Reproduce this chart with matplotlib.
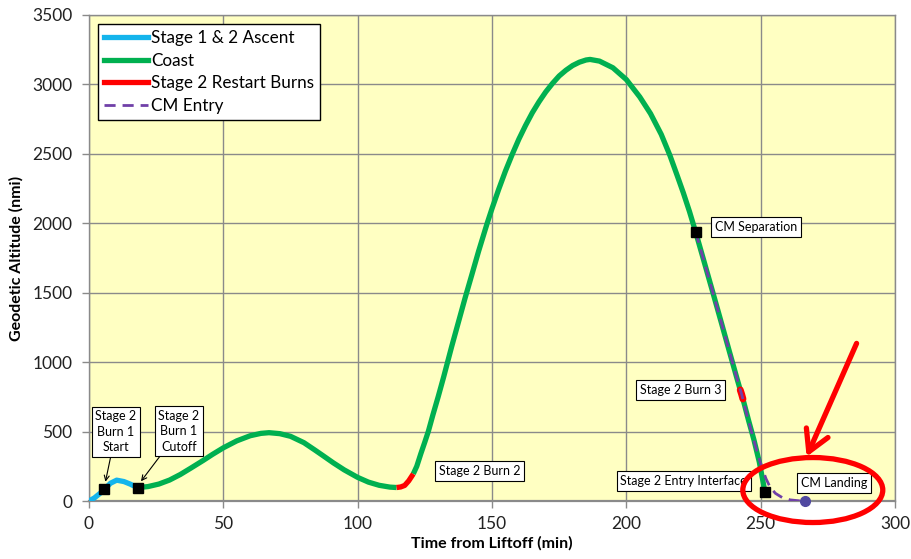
import matplotlib
matplotlib.use("Agg")
import matplotlib.pyplot as plt
from matplotlib.patches import Ellipse
from matplotlib.lines import Line2D

plt.rcParams['font.family'] = ['Lato', 'DejaVu Sans']

# ---- data (time from liftoff in min, geodetic altitude in nmi) ----
ascent_t = [0, 2, 4.1, 5.7, 8, 10.3, 13, 15.3, 18.1]
ascent_h = [0, 22, 55, 84, 128, 150, 140, 122, 96]

coast1_t = [18.1, 22, 26, 30, 34, 38, 42.5, 46, 50, 55, 60, 64, 67, 71, 75, 80,
            84, 87, 91, 95, 100, 104, 108, 112, 114.5]
coast1_h = [96, 104, 122, 151, 191, 238, 292, 336, 383, 433, 470, 487, 492, 485,
            466, 420, 368, 328, 274, 224, 170, 136, 113, 100, 97]

burn2_t = [114.5, 116, 117.5, 119, 120.7]
burn2_h = [97, 101, 112, 145, 195]

coast2_t = [120.7, 122, 123.5, 125, 126.3, 128, 130, 132, 135, 137.5, 140, 142.5,
            145, 148.2, 150, 152.5, 155, 157.5, 160, 162.5, 165, 167.5, 170,
            172.5, 175, 177.5, 180, 182.5, 185, 186.5, 190, 195, 200, 205, 209,
            213, 216.2, 219, 221.2, 223.5, 225.8, 229, 232.3, 235.5, 238.6, 241,
            242.4]
coast2_h = [195, 250, 340, 425, 501, 620, 753, 893, 1113, 1288, 1463, 1630,
            1798, 2000, 2106, 2245, 2376, 2495, 2606, 2705, 2796, 2875, 2946,
            3007, 3061, 3102, 3136, 3160, 3176, 3180, 3168, 3120, 3035, 2910,
            2790, 2640, 2490, 2340, 2220, 2085, 1937, 1720, 1495, 1275, 1060,
            895, 800]

burn3_t = [242.4, 242.9, 243.4]
burn3_h = [800, 770, 735]

coast3_t = [243.4, 245.5, 247.5, 249.5, 251.6]
coast3_h = [735, 580, 440, 280, 65]

entry_t = [225.8, 229, 232.3, 235.5, 238.6, 241, 242.9, 245, 247, 249,
           250.5, 252, 253.5, 255.5, 258, 261, 264, 266.5]
entry_h = [1937, 1720, 1495, 1275, 1060, 895, 770, 610, 470, 330,
           240, 160, 100, 55, 25, 8, 2, 0]

events_t = [5.7, 18.1, 225.8, 251.6]
events_h = [84, 96, 1937, 65]
landing_t = [266.5]
landing_h = [0]

x_ticks = [0, 50, 100, 150, 200, 250, 300]
y_ticks = [0, 500, 1000, 1500, 2000, 2500, 3000, 3500]

BLUE = '#14B4EC'
GREEN = '#00B050'
RED = '#FF0000'
PURPLE = '#7040A8'

fig = plt.figure(figsize=(9.12, 5.59), dpi=100)
ax = fig.add_axes([89/912, 1-501/559, (895-89)/912, (501-15)/559])
ax.set_facecolor('#FFFFC2')

lw = 3.8
ax.plot(ascent_t, ascent_h, color=BLUE, lw=lw, solid_capstyle='butt', zorder=3)
ax.plot(coast1_t, coast1_h, color=GREEN, lw=lw, solid_capstyle='butt', zorder=3)
ax.plot(burn2_t, burn2_h, color=RED, lw=lw, solid_capstyle='butt', zorder=4)
ax.plot(coast2_t, coast2_h, color=GREEN, lw=lw, solid_capstyle='butt', zorder=3)
ax.plot(coast3_t, coast3_h, color=GREEN, lw=lw, solid_capstyle='butt', zorder=3)
ax.plot(burn3_t, burn3_h, color=RED, lw=lw + 1.2, solid_capstyle='round', zorder=4)
ax.plot(entry_t, entry_h, color=PURPLE, lw=2.0, ls=(0, (4, 2.5)), zorder=5)
ax.plot(events_t, events_h, ls='none', marker='s', ms=7, color='black', zorder=6)
ax.plot(landing_t, landing_h, ls='none', marker='o', ms=7, color='#5048A0', zorder=6,
        clip_on=False)

ax.set_xlim(0, 300)
ax.set_ylim(0, 3500)
ax.set_xticks(x_ticks)
ax.set_yticks(y_ticks)
ax.grid(True, color='#8a8a8a', lw=1.0)
ax.set_axisbelow(True)
for s in ax.spines.values():
    s.set_color('#8a8a8a')
    s.set_linewidth(1.0)
ax.spines['bottom'].set_linewidth(1.6)
ax.tick_params(axis='both', colors='#8a8a8a', labelcolor='#222222', labelsize=12.5,
               length=5, width=1)
ax.tick_params(axis='y', pad=7)
ax.tick_params(axis='x', pad=6)

ax.set_xlabel('Time from Liftoff (min)', fontsize=11.5, fontweight='bold', labelpad=3)
ax.set_ylabel('Geodetic Altitude (nmi)', fontsize=11.5, fontweight='bold', labelpad=6)

handles = [Line2D([], [], color=BLUE, lw=lw),
           Line2D([], [], color=GREEN, lw=lw),
           Line2D([], [], color=RED, lw=lw),
           Line2D([], [], color=PURPLE, lw=2.0, ls=(0, (4, 2.5)))]
labels = ['Stage 1 & 2 Ascent', 'Coast', 'Stage 2 Restart Burns', 'CM Entry']
leg = ax.legend(handles, labels, loc='upper left', bbox_to_anchor=(0.011, 0.981),
                fontsize=12.3, frameon=True, fancybox=False, edgecolor='black',
                framealpha=1, borderpad=0.35, labelspacing=0.38, handlelength=2.6,
                handletextpad=0.15, borderaxespad=0)
leg.get_frame().set_linewidth(1.0)

box = dict(boxstyle='square,pad=0.3', fc='white', ec='black', lw=0.8)
fs = 9
ax.annotate('Stage 2\nBurn 1\nStart', xy=(5.7, 100), xytext=(10.0, 497),
            ha='center', va='center', fontsize=fs, bbox=box, linespacing=1.35,
            arrowprops=dict(arrowstyle='->', color='black', lw=0.8,
                            shrinkA=0, shrinkB=4), zorder=7)
ax.annotate('Stage 2\nBurn 1\nCutoff', xy=(18.1, 110), xytext=(33.5, 504),
            ha='center', va='center', fontsize=fs, bbox=box, linespacing=1.35,
            arrowprops=dict(arrowstyle='->', color='black', lw=0.8,
                            shrinkA=0, shrinkB=4), zorder=7)
ax.text(145.5, 216, 'Stage 2 Burn 2', ha='center', va='center', fontsize=fs, bbox=box, zorder=7)
ax.text(220.3, 799, 'Stage 2 Burn 3', ha='center', va='center', fontsize=fs, bbox=box, zorder=7)
ax.text(248.2, 1973, 'CM Separation', ha='center', va='center', fontsize=fs, bbox=box, zorder=7)
ax.text(221.4, 144, 'Stage 2 Entry Interface', ha='center', va='center', fontsize=fs,
        bbox=box, zorder=7)
ax.text(277.3, 130, 'CM Landing', ha='center', va='center', fontsize=fs, bbox=box, zorder=7)

# red highlight ellipse and arrow
ell = Ellipse((269.4, 79), 52.1, 468, fill=False, ec=RED, lw=3.8, clip_on=False, zorder=8)
ax.add_patch(ell)
ax.annotate('', xy=(267.1, 319), xytext=(285.7, 1135),
            arrowprops=dict(arrowstyle='->,head_length=1.5,head_width=0.85',
                            color=RED, lw=3.8, shrinkA=0, shrinkB=0),
            annotation_clip=False, zorder=8)

fig.savefig('out.png', dpi=100)
